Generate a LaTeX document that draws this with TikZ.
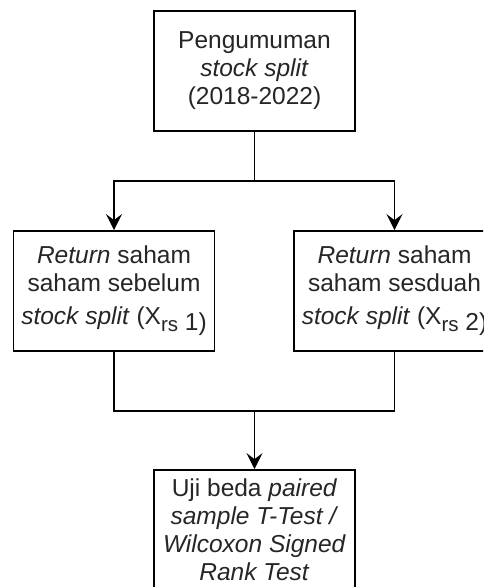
\documentclass[tikz,border=0pt]{standalone}
\usepackage{fontspec}
\setmainfont{Liberation Sans}
\usetikzlibrary{arrows.meta}
\tikzset{
  box/.style={draw=black, line width=1.8pt, minimum width=201pt, minimum height=120pt,
    inner sep=0pt, align=center, font=\fontsize{24.5}{28}\selectfont, text=black!85},
  conn/.style={draw=black, line width=1.8pt},
  arr/.style={conn, -{Stealth[length=16pt,width=16pt,inset=6pt]}}
}
\begin{document}
\begin{tikzpicture}[x=1pt,y=-1pt]
\useasboundingbox (0,0) rectangle (483,587);
\clip (0,0) rectangle (483,587);
\fill[white] (0,0) rectangle (483,587);
\node[box] (top) at (254.5,70.8) {Pengumuman\\\textit{stock split}\\(2018-2022)};
\node[box] (left) at (114,291) {\textit{Return} saham\\saham sebelum\\[5pt]\textit{stock split} (X\raisebox{-7pt}{\fontsize{20.5}{20}\selectfont rs}\ \raisebox{-6pt}{1)}};
\node[box] (right) at (394.5,291) {\textit{Return} saham\\saham sesduah\\[5pt]\textit{stock split} (X\raisebox{-7pt}{\fontsize{20.5}{20}\selectfont rs}\ \raisebox{-6pt}{2)}};
\node[box] (bot) at (254.5,530) {Uji beda \textit{paired}\\\textit{sample T-Test /}\\\textit{Wilcoxon Signed}\\\textit{Rank Test}};
\coordinate (j1) at (254.5,181);
\coordinate (j2) at (254.5,411);
\draw[conn] (top.south) -- (j1);
\draw[arr] (j1) -| (left.north);
\draw[arr] (j1) -| (right.north);
\draw[conn] (left.south) |- (j2);
\draw[conn] (right.south) |- (j2);
\draw[arr] (j2) -- (bot.north);
\end{tikzpicture}
\end{document}
